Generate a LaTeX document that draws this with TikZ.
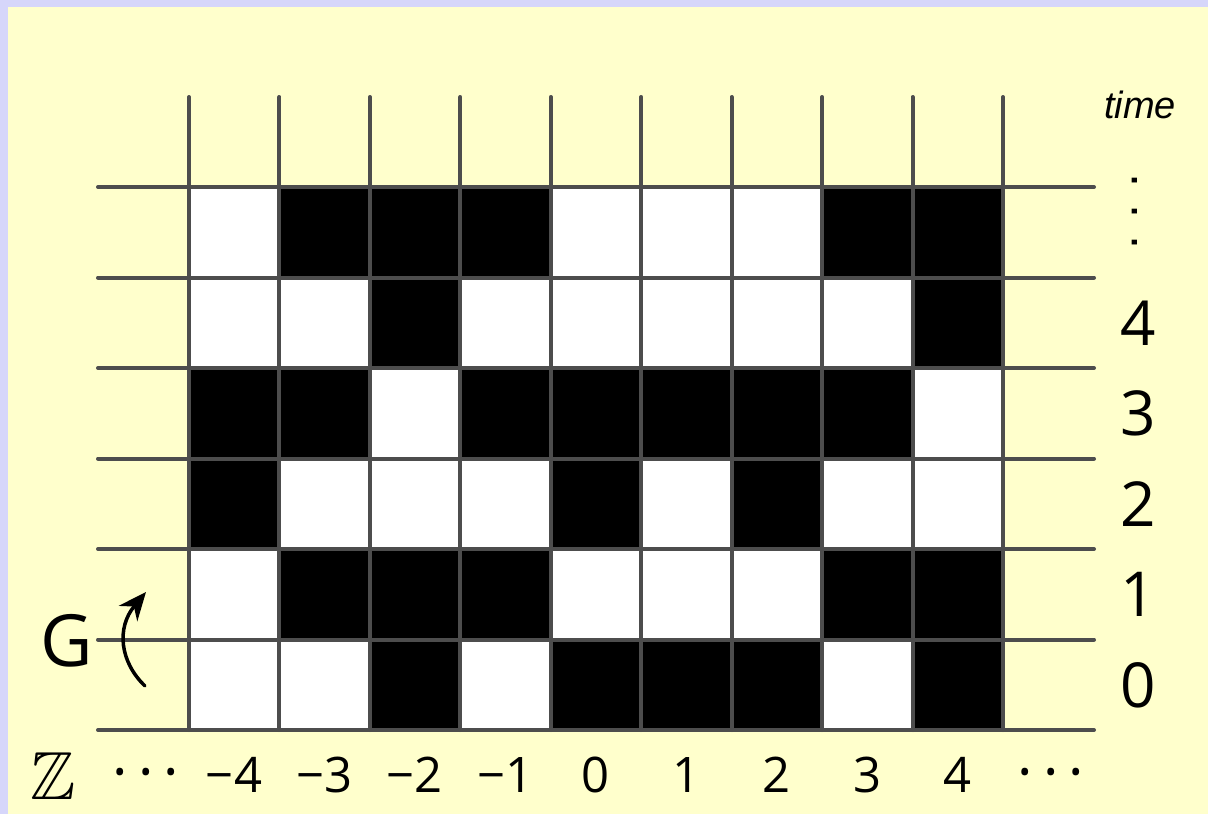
\documentclass[tikz,border=0pt]{standalone}
\usepackage{amssymb}
\usepackage{fontspec}
\setmainfont{Open Sans}
\newfontfamily\libsans{Liberation Sans}
\usetikzlibrary{arrows.meta}
\definecolor{bgyellow}{RGB}{255,255,204}
\definecolor{bglav}{RGB}{214,214,250}
\definecolor{gridgray}{RGB}{77,77,77}
\tikzset{
  gridline/.style={draw=gridgray,line width=4pt,line cap=round},
  rightlab/.style={anchor=base,inner sep=0pt,font=\fontsize{62}{62}\selectfont},
  botlab/.style={anchor=base,inner sep=0pt,font=\fontsize{49}{49}\selectfont},
  vdot/.style={anchor=base,inner sep=0pt,font=\libsans\fontsize{50}{50}\selectfont},
  hdots/.style={anchor=base,inner sep=0pt,font=\fontsize{58}{58}\selectfont},
}
\begin{document}
\begin{tikzpicture}[x=1pt,y=-1pt]
\useasboundingbox (0,0) rectangle (1208,814);
\fill[bglav] (0,0) rectangle (1208,814);
\fill[bgyellow] (8,7) rectangle (1208,814);
% cells
\fill[white] (189,187) rectangle (1003,730);
\foreach \row [count=\r from 0] in {{0,0,1,0,1,1,1,0,1},{0,1,1,1,0,0,0,1,1},{1,0,0,0,1,0,1,0,0},{1,1,0,1,1,1,1,1,0},{0,0,1,0,0,0,0,0,1},{0,1,1,1,0,0,0,1,1}}{
  \foreach \v [count=\c from 0] in \row {
    \ifnum\v=1
      \fill[black] ({189+\c*90.444},{730-\r*90.5}) rectangle ++(90.444,-90.5);
    \fi
  }
}
% grid
\foreach \c in {0,...,9}{
  \draw[gridline] ({189+\c*90.444},97) -- ({189+\c*90.444},730);
}
\foreach \r in {0,...,6}{
  \draw[gridline] (98,{730-\r*90.5}) -- (1094,{730-\r*90.5});
}
% right labels
\node[anchor=base,inner sep=0pt,font=\libsans\itshape\fontsize{38}{38}\selectfont] (time) at (1140,118) {time};
\node[vdot,rotate=90] (vdots) at (1137,212) {.\hspace{17.1pt}.\hspace{17.1pt}.};
\foreach \t in {0,...,4}{
  \node[rightlab] (t\t) at (1138,{707-\t*90.5}) {\t};
}
% bottom labels
\node[anchor=base,inner sep=0pt,font=\fontsize{68}{68}\selectfont] (Z) at (53,799) {$\mathbb{Z}$};
\node[hdots] (ldots) at (146,792) {·\hspace{10pt}·\hspace{10pt}·};
\node[hdots] (rdots) at (1051,792) {·\hspace{10pt}·\hspace{10pt}·};
\foreach \i [count=\c from 0] in {-4,...,4}{
  \ifnum\i<0
    \node[botlab] (z\c) at ({234+\c*90.444},792) {−\the\numexpr-\i\relax};
  \else
    \node[botlab] (z\c) at ({234+\c*90.444},792) {\i};
  \fi
}
% G and arrow
\node[anchor=base,inner sep=0pt,font=\fontsize{72}{72}\selectfont] (G) at (67,666) {G};
\coordinate (arrS) at (145,686);
\coordinate (arrE) at (146,592);
\draw[line width=3.5pt,line cap=round,-{Stealth[length=28pt,width=24pt]}] (arrS) .. controls (120,662) and (116,628) .. (arrE);
\end{tikzpicture}
\end{document}
